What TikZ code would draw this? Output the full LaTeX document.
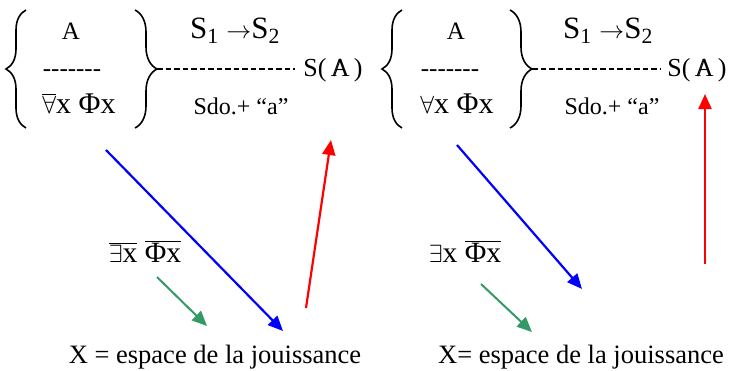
\documentclass[tikz,border=0pt]{standalone}
\usepackage{fontspec}
\setmainfont{Liberation Serif}
\usetikzlibrary{arrows.meta, positioning, decorations.pathreplacing}
\definecolor{arrblue}{RGB}{0,0,255}
\definecolor{arrred}{RGB}{255,0,0}
\definecolor{arrgreen}{HTML}{339966}
\newcommand\ovl[1]{$\overline{\hbox{#1}}$}
\newcommand\slashA{\makebox[0pt][l]{\kern0.12em/}A}
\newcommand\hyphs{-{}-{}-{}-{}-{}-{}-}
\tikzset{
  txt/.style={inner sep=0pt, anchor=base, font=\fontsize{#1}{#1}\selectfont},
  curly/.style={decorate, decoration={brace, amplitude=#1, aspect=0.5}, line width=1.6pt},
  link/.style={line width=1.3pt, dash pattern=on 5.5pt off 3pt},
  arr/.style={line width=2.2pt, -{Triangle[length=15pt, width=13pt]}},
}
\begin{document}
\begin{tikzpicture}[x=1pt, y=-1pt]
  \useasboundingbox (0,0) rectangle (731,370);
  % left panel
  \node[txt=25] (topL) at (71,39) {A};
  \node[txt=25] (sepL) at (72,76) {\hyphs};
  \node[txt=30] (botL) at (79,113) {$\overline{\forall}$x Φx};
  \draw[curly=20] (26,128) -- (26,10);
  \draw[curly=22] (135,10) -- (135,128);
  \coordinate (tipL) at (157,69);
  \node[txt=31] (chainL) at (235,38) {S\textsubscript{1} $\rightarrow$S\textsubscript{2}};
  \node[txt=26] (resL) at (333,76) {S(\,\slashA\,)};
  \node[txt=24] (sdoL) at (241,114) {Sdo.+ “a”};
  \draw[link] (tipL) -- (295,69);
  \node[txt=29.5] (negL) at (145,262) {\ovl{$\exists$x} \ovl{Φx}};
  \node[txt=26.5] (spaceL) at (215,363) {X = espace de la jouissance};
  \coordinate (bsL) at (106,150);
  \coordinate (beL) at (283,331);
  \coordinate (rsL) at (306,308);
  \coordinate (reL) at (331,140);
  \coordinate (gsL) at (157,277);
  \coordinate (geL) at (207,326);
  \draw[arr, arrblue] (bsL) -- (beL);
  \draw[arr, arrred] (rsL) -- (reL);
  \draw[arr, arrgreen, line width=2pt] (gsL) -- (geL);
  % right panel
  \node[txt=25] (topR) at (456,39) {A};
  \node[txt=25] (sepR) at (450,76) {\hyphs};
  \node[txt=30] (botR) at (457,113) {$\forall$x Φx};
  \draw[curly=20] (402,128) -- (402,10);
  \draw[curly=22] (510,10) -- (510,128);
  \coordinate (tipR) at (532,69);
  \node[txt=31] (chainR) at (608,38) {S\textsubscript{1} $\rightarrow$S\textsubscript{2}};
  \node[txt=26] (resR) at (697,76) {S(\,\slashA\,)};
  \node[txt=24] (sdoR) at (612,114) {Sdo.+ “a”};
  \draw[link] (tipR) -- (660,69);
  \node[txt=29.5] (negR) at (465,262) {$\exists$x \ovl{Φx}};
  \node[txt=26.5] (spaceR) at (581,363) {X= espace de la jouissance};
  \coordinate (bsR) at (457,145);
  \coordinate (beR) at (582,289);
  \coordinate (rsR) at (705,264);
  \coordinate (reR) at (705,94);
  \coordinate (gsR) at (481,284);
  \coordinate (geR) at (532,332);
  \draw[arr, arrblue] (bsR) -- (beR);
  \draw[arr, arrred] (rsR) -- (reR);
  \draw[arr, arrgreen, line width=2pt] (gsR) -- (geR);
\end{tikzpicture}
\end{document}
